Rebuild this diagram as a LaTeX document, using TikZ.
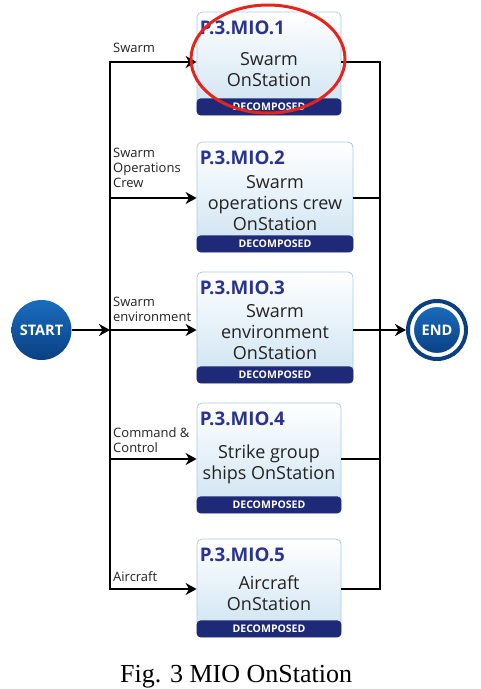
\documentclass[tikz,border=0pt]{standalone}
\usepackage{fontspec}
\setmainfont{Open Sans}
\newfontfamily\capfont{Liberation Serif}
\usetikzlibrary{arrows.meta,shapes.geometric}
\definecolor{boxline}{HTML}{A9CDE6}
\definecolor{boxblue}{HTML}{CCE2F1}
\definecolor{hdrblue}{HTML}{2B3390}
\definecolor{barblue}{HTML}{1E2A78}
\definecolor{circtop}{HTML}{1A6CBE}
\definecolor{circbot}{HTML}{0A3F82}
\definecolor{lblgray}{HTML}{222222}
\definecolor{bodygray}{HTML}{222222}
\definecolor{hlred}{HTML}{E8231C}
\tikzset{
  wire/.style={line width=2pt, black},
  arr/.style={wire, -{Stealth[length=11pt,width=12pt,inset=3.5pt]}},
  mbox/.style={rectangle, rounded corners=5pt, draw=boxline, line width=0.8pt,
    top color=white, bottom color=boxblue, inner sep=0pt},
  decbar/.style={fill=barblue, rounded corners=4pt},
  dectext/.style={text=white, font=\fontsize{10.5}{12}\selectfont\bfseries, inner sep=0pt},
  hdr/.style={text=hdrblue, font=\fontsize{18.8}{21}\selectfont\bfseries, inner sep=0pt, anchor=north west},
  body/.style={text=bodygray, font=\fontsize{18}{21}\selectfont, align=center, inner sep=0pt},
  lbl/.style={text=lblgray, font=\fontsize{13}{15}\selectfont, align=left, inner sep=0pt, anchor=south west},
  term/.style={circle, inner sep=0pt, top color=circtop, bottom color=circbot,
    text=white, font=\fontsize{14.5}{16}\selectfont\bfseries},
}
\begin{document}
\begin{tikzpicture}[x=1pt,y=-1pt]
\useasboundingbox (0,0) rectangle (481,689);

% boxes
\node[mbox, minimum width=144pt, minimum height=103pt] (b1) at (269,63.5) {};
\node[mbox, minimum width=156pt, minimum height=110pt] (b2) at (275,197) {};
\node[mbox, minimum width=156pt, minimum height=111pt] (b3) at (275,327.5) {};
\node[mbox, minimum width=144pt, minimum height=110pt] (b4) at (269,458) {};
\node[mbox, minimum width=144pt, minimum height=98pt] (b5) at (269,588) {};

\foreach \b in {b1,b2,b3,b4,b5}{
  \fill[decbar] ([yshift=17pt]\b.south west) rectangle (\b.south east);
  \node[dectext] (d\b) at ([yshift=8.5pt]\b.south) {DECOMPOSED};
}

\node[hdr] (h1) at ([shift={(3,9)}]b1.north west) {P.3.MIO.1};
\node[hdr] (h2) at ([shift={(3,9)}]b2.north west) {P.3.MIO.2};
\node[hdr] (h3) at ([shift={(3,9)}]b3.north west) {P.3.MIO.3};
\node[hdr] (h4) at ([shift={(3,9)}]b4.north west) {P.3.MIO.4};
\node[hdr] (h5) at ([shift={(3,9)}]b5.north west) {P.3.MIO.5};

\node[body] (t1) at ([shift={(0,6)}]b1.center) {Swarm\\OnStation};
\node[body] (t2) at ([shift={(0,6)}]b2.center) {Swarm\\operations crew\\OnStation};
\node[body] (t3) at ([shift={(0,5)}]b3.center) {Swarm\\environment\\OnStation};
\node[body] (t4) at ([shift={(0,6)}]b4.center) {Strike group\\ships OnStation};
\node[body] (t5) at ([shift={(0,5)}]b5.center) {Aircraft\\OnStation};

% junction coordinates
\coordinate (L1) at (110,62);  \coordinate (R1) at (380,62);
\coordinate (L2) at (110,198); \coordinate (R2) at (380,198);
\coordinate (L3) at (110,330); \coordinate (R3) at (380,330);
\coordinate (L4) at (110,459); \coordinate (R4) at (380,459);
\coordinate (L5) at (110,589); \coordinate (R5) at (380,589);

% start / end
\node[term, minimum size=60pt] (start) at (41.5,330) {START};
\node[term, minimum size=50pt, draw=white, line width=4pt, outer sep=6pt] (end) at (437,330) {END};
\draw[circbot, line width=4pt] (end.center) circle (29);

% wiring
\draw[wire, line cap=rect] (L1) -- (L5);
\draw[wire, line cap=rect] (R1) -- (R5);
\draw[arr] (start.east) -- (L3);
\draw[arr] (R3) -- (end.west);
\foreach \i in {1,...,5}{
  \draw[arr] (L\i) -- (L\i -| b\i.west);
  \draw[wire] (b\i.east |- R\i) -- (R\i);
}

% edge labels
\node[lbl] (e1) at ([shift={(3,-9)}]L1) {Swarm};
\node[lbl] (e2) at ([shift={(3,-10)}]L2) {Swarm\\Operations\\Crew};
\node[lbl] (e3) at ([shift={(3,-8)}]L3) {Swarm\\environment};
\node[lbl] (e4) at ([shift={(3,-6)}]L4) {Command \&\\Control};
\node[lbl] (e5) at ([shift={(3,-7)}]L5) {Aircraft};

% highlight ellipse
\node[ellipse, draw=hlred, line width=3pt, minimum width=154pt, minimum height=108pt, inner sep=0pt] (hl) at (268,59) {};

% caption
\node[font=\capfont\fontsize{26}{30}\selectfont, anchor=base west, inner sep=0pt] (cap) at (120,682) {Fig. 3 MIO OnStation};
\end{tikzpicture}
\end{document}
